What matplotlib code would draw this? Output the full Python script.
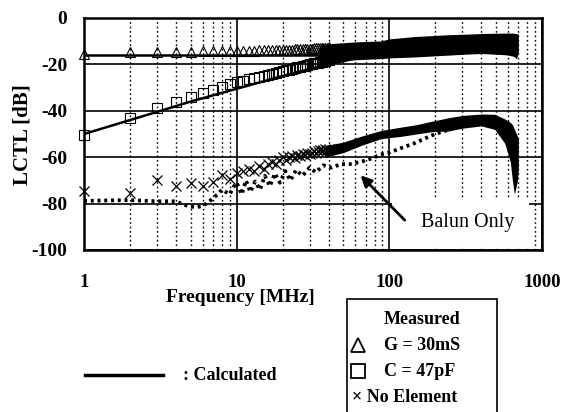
import matplotlib
matplotlib.use("Agg")
import matplotlib.pyplot as plt
from matplotlib.lines import Line2D
from matplotlib.patches import Rectangle
from matplotlib.ticker import LogLocator, NullFormatter

plt.rcParams['font.family'] = ['Liberation Serif', 'DejaVu Serif']
plt.rcParams['axes.unicode_minus'] = False

# ---- data (frequency in MHz, LCTL in dB) ----
f_marks = list(range(1, 41))

g_meas = [-15.5, -14.6, -14.6, -14.5, -14.5, -14.4, -14.4, -14.3, -14.3, -14.2,
          -14.2, -14.1, -14.1, -14.0, -14.0, -13.9, -13.9, -13.8, -13.8, -13.7,
          -13.7, -13.6, -13.6, -13.5, -13.5, -13.4, -13.4, -13.3, -13.3, -13.2,
          -13.2, -13.1, -13.1, -13.0, -13.0, -12.9, -12.9, -12.8, -12.8, -12.7]

c_meas = [-50.5, -43.0, -38.6, -36.2, -34.0, -32.5, -31.0, -29.8, -28.6, -27.6,
          -27.0, -26.4, -25.8, -25.3, -24.8, -24.4, -24.0, -23.6, -23.2, -22.8,
          -22.5, -22.2, -21.9, -21.6, -21.3, -21.0, -20.8, -20.5, -20.3, -20.0,
          -19.8, -19.6, -19.4, -19.2, -19.0, -18.8, -18.6, -18.4, -18.2, -18.0]

ne_meas = [-74.5, -75.5, -70.0, -72.5, -71.0, -72.5, -70.5, -67.5, -69.6, -66.8,
           -66.0, -65.0, -66.0, -64.0, -65.0, -63.0, -62.0, -63.0, -61.0, -60.0,
           -61.0, -60.0, -59.5, -60.5, -59.0, -59.5, -58.5, -59.0, -58.0, -58.5,
           -58.0, -57.5, -58.0, -57.5, -57.0, -57.5, -57.0, -56.5, -57.0, -56.5]

# calculated curves
calc_g_f = [1, 40]
calc_g_db = [-16.0, -16.0]
calc_c_f = [1, 2, 3, 5, 10, 20, 30, 40, 55]
calc_c_db = [-50.0, -44.0, -40.5, -36.0, -30.5, -25.0, -22.0, -20.0, -18.0]

# dense measured data above ~40 MHz (G and C merge into one band)
band_f = [35, 42, 60, 88, 100, 146, 244, 310, 400, 560, 600, 650, 680, 700]
band_top = [-12.0, -11.0, -10.3, -9.9, -9.0, -8.0, -7.2, -7.0, -6.7, -6.5, -6.5, -6.5, -6.7, -7.0]
band_bot = [-20.0, -19.0, -18.0, -17.5, -17.2, -16.8, -16.0, -15.6, -15.3, -15.8, -16.0, -16.5, -17.5, -15.0]

# dense No Element data above 40 MHz
ne_band_f = [38, 50, 65, 88, 120, 150, 190, 244, 300, 400, 490, 570, 620, 640, 660, 690, 700]
ne_band_top = [-55.0, -53.5, -51.0, -48.5, -47.0, -46.0, -44.5, -43.0, -42.0, -41.4, -41.5, -43.5, -45.0, -46.0, -48.0, -51.0, -52.0]
ne_band_bot = [-60.0, -58.0, -55.0, -52.0, -51.0, -50.0, -49.0, -48.7, -47.5, -46.5, -48.0, -54.0, -62.0, -70.0, -76.0, -70.0, -65.0]

# balun only (dotted)
balun_f = [1, 2, 3, 4, 4.5, 5, 5.5, 6, 6.5, 7, 7.5, 8, 8.5, 9, 9.5, 10, 10.8, 11.5,
           12.3, 13.2, 14.2, 15.3, 16.5, 17.8, 19.2, 20.8, 22.5, 24.5, 27, 30, 33,
           37, 42, 48, 55, 65, 77, 88, 100, 120, 146, 170, 200, 250]
balun_db = [-78.8, -78.5, -79.0, -79.0, -80.5, -81.3, -81.5, -81.0, -79.5, -77.7,
            -76.0, -74.0, -75.0, -76.0, -73.0, -71.0, -76.0, -70.0, -75.0, -70.5,
            -74.0, -68.0, -72.5, -67.0, -71.0, -66.0, -70.0, -65.5, -68.0, -64.5,
            -66.5, -63.5, -64.5, -63.0, -63.0, -62.0, -60.5, -58.8, -58.0, -56.0,
            -54.0, -52.0, -50.0, -48.0]

x_ticks = [1, 10, 100, 1000]
x_labels = ["1", "10", "100", "1000"]
y_ticks = [0, -20, -40, -60, -80, -100]
y_labels = ["0", "-20", "-40", "-60", "-80", "-100"]

W, H = 564, 412
fig = plt.figure(figsize=(W / 100, H / 100), dpi=100)
ax = fig.add_axes([84 / W, 1 - 250 / H, (542 - 84) / W, (250 - 18) / H])
ax.set_xscale('log')
ax.set_xlim(1, 1000)
ax.set_ylim(-100, 0)

# grid
ax.xaxis.set_minor_locator(LogLocator(base=10, subs=range(2, 10)))
ax.xaxis.set_minor_formatter(NullFormatter())
ax.yaxis.grid(True, color='k', lw=1.2, ls='-')
ax.xaxis.grid(True, which='major', color='k', lw=1.2, ls='-')
ax.xaxis.grid(True, which='minor', color='k', lw=1.0, ls=(0, (1.2, 2.0)))
ax.set_axisbelow(True)

# white label box that hides the grid behind "Balun Only"
ax.add_patch(Rectangle((0.672, 0.017), 0.30, 0.207, transform=ax.transAxes,
                       fc='white', ec='none', zorder=1))

# bands
ax.fill_between(band_f, band_top, band_bot, color='k', lw=0, zorder=2)
ax.fill_between(ne_band_f, ne_band_top, ne_band_bot, color='k', lw=0, zorder=2)

# calculated
ax.plot(calc_g_f, calc_g_db, color='k', lw=1.8, zorder=2)
ax.plot(calc_c_f, calc_c_db, color='k', lw=1.8, zorder=2)

# balun only
ax.plot(balun_f, balun_db, color='k', lw=2.7, ls=(0, (0.8, 1.0)), zorder=2)

# measured markers
ax.plot(f_marks, g_meas, ls='none', marker='^', mfc='none', mec='k', ms=6.5, mew=0.8, clip_on=False, zorder=3)
ax.plot(f_marks, c_meas, ls='none', marker='s', mfc='none', mec='k', ms=6.5, mew=0.8, clip_on=False, zorder=3)
ax.plot(f_marks, ne_meas, ls='none', marker='x', color='k', ms=6.5, mew=0.9, clip_on=False, zorder=3)

# ticks
ax.set_xticks(x_ticks)
ax.set_xticklabels(x_labels)
ax.set_yticks(y_ticks)
ax.set_yticklabels(y_labels)
ax.tick_params(axis='x', which='both', length=0, pad=17, labelsize=13.5)
ax.tick_params(axis='y', length=0, pad=12, labelsize=14)
for lab in ax.get_xticklabels() + ax.get_yticklabels():
    lab.set_fontweight('bold')
for sp in ax.spines.values():
    sp.set_linewidth(1.8)

# annotation
ax.annotate("", xy=(63, -67), xytext=(130, -88), zorder=4,
            arrowprops=dict(arrowstyle='-|>', color='k', lw=2.0, mutation_scale=16))
fig.text(468 / W, 1 - 222 / H, "Balun Only", ha='center', va='center', fontsize=14.5)

# axis labels
fig.text(240 / W, 1 - 298 / H, "Frequency [MHz]", ha='center', va='center',
         fontsize=14, fontweight='bold')
fig.text(23 / W, 1 - 135 / H, "LCTL [dB]", ha='center', va='center',
         rotation=90, fontsize=15, fontweight='bold')

# calculated legend
fig.add_artist(Line2D([85 / W, 163 / W], [1 - 375 / H, 1 - 375 / H],
                      transform=fig.transFigure, color='k', lw=2.5))
fig.text(183 / W, 1 - 375 / H, ": Calculated", ha='left', va='center',
         fontsize=13, fontweight='bold')

# measured legend box
fig.add_artist(Rectangle((347 / W, -0.05), (497 - 347) / W, 0.05 + 1 - 299 / H,
                         transform=fig.transFigure, fill=False, ec='k', lw=1.2))
fig.text(422 / W, 1 - 319 / H, "Measured", ha='center', va='center',
         fontsize=13, fontweight='bold')
fig.add_artist(Line2D([358 / W], [1 - 345 / H], transform=fig.transFigure,
                      marker='^', mfc='none', mec='k', ms=10, mew=1.3, ls='none'))
fig.text(384 / W, 1 - 345 / H, "G = 30mS", ha='left', va='center',
         fontsize=13, fontweight='bold')
fig.add_artist(Line2D([358 / W], [1 - 371 / H], transform=fig.transFigure,
                      marker='s', mfc='none', mec='k', ms=10, mew=1.3, ls='none'))
fig.text(384 / W, 1 - 371 / H, "C = 47pF", ha='left', va='center',
         fontsize=13, fontweight='bold')
fig.text(352 / W, 1 - 397 / H, "\u00d7 No Element", ha='left', va='center',
         fontsize=13, fontweight='bold')

fig.savefig("out.png", dpi=100)
